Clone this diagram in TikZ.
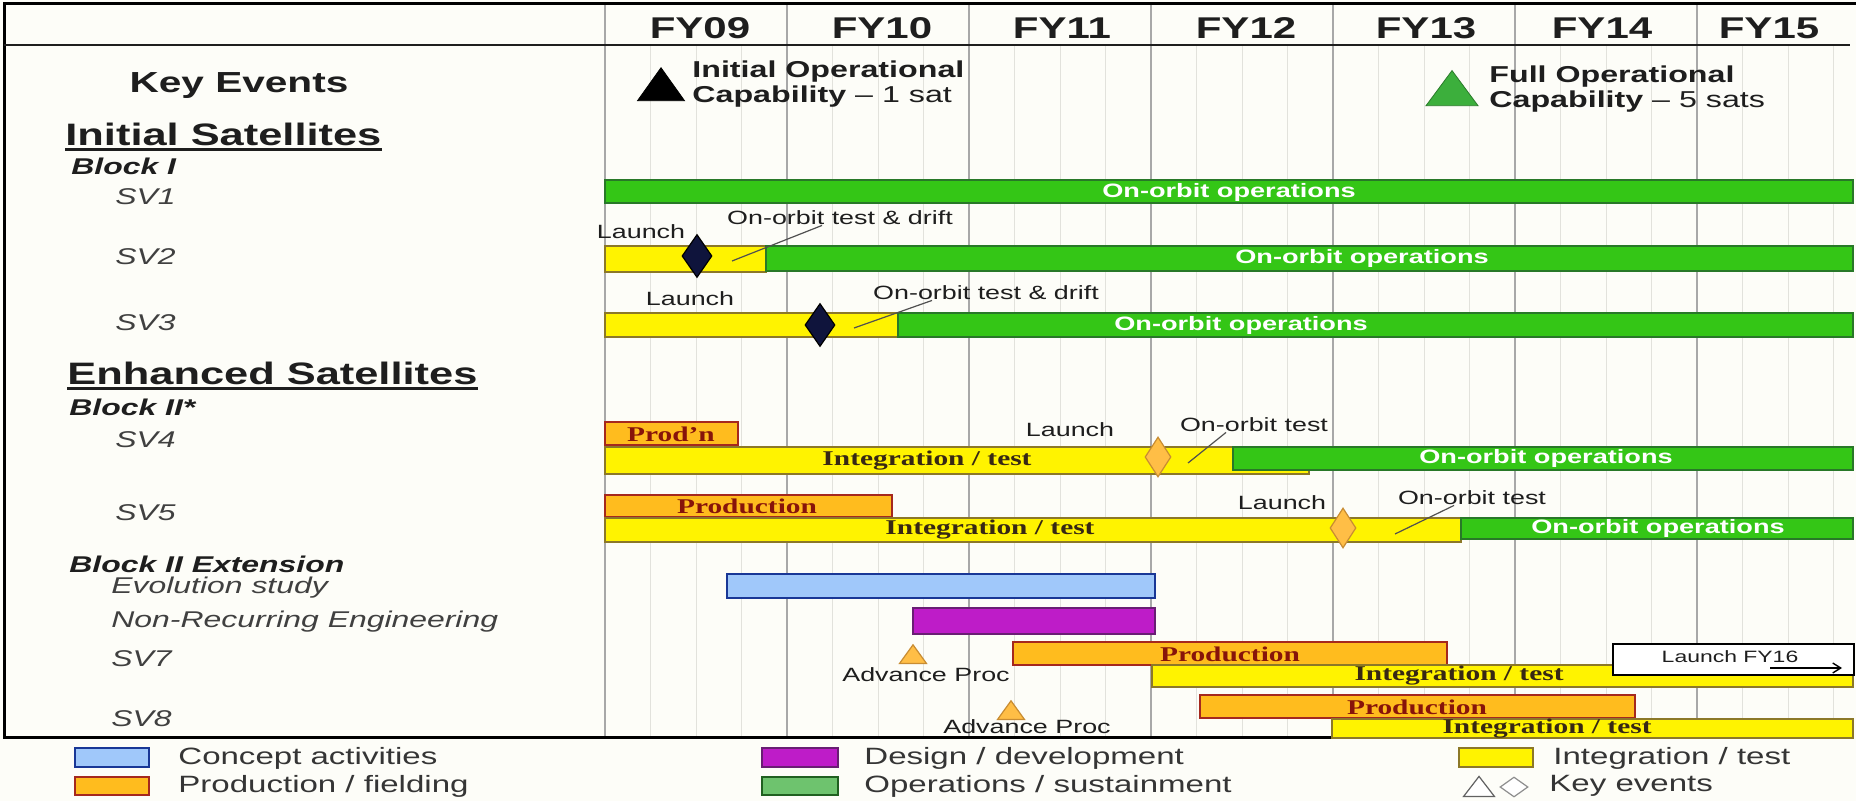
\documentclass[tikz,border=0pt]{standalone}
\usepackage{fontspec}
\setmainfont{Liberation Sans}[FakeStretch=1.4]
\newfontfamily\barfont{Liberation Serif}[FakeStretch=1.4]
\usetikzlibrary{arrows.meta, positioning, shapes.geometric, fit}

\definecolor{paper}{RGB}{253,253,248}
\definecolor{yearline}{RGB}{168,168,168}
\definecolor{qtrline}{RGB}{226,226,220}
\definecolor{opsfill}{RGB}{52,198,22}
\definecolor{opsdraw}{RGB}{40,120,40}
\definecolor{itfill}{RGB}{255,243,0}
\definecolor{itdraw}{RGB}{140,120,40}
\definecolor{prodfill}{RGB}{255,188,30}
\definecolor{proddraw}{RGB}{165,40,30}
\definecolor{conceptfill}{RGB}{160,200,250}
\definecolor{conceptdraw}{RGB}{25,55,150}
\definecolor{designfill}{RGB}{190,28,200}
\definecolor{designdraw}{RGB}{105,30,115}
\definecolor{legopsfill}{RGB}{110,195,110}
\definecolor{evfill}{RGB}{255,190,70}
\definecolor{evdraw}{RGB}{200,140,50}
\definecolor{navy}{RGB}{15,20,60}
\definecolor{focgreen}{RGB}{60,175,60}
\definecolor{prodtxt}{RGB}{135,20,10}
\definecolor{ittxt}{RGB}{55,40,20}
\definecolor{ink}{RGB}{30,30,30}
\definecolor{leadcol}{RGB}{80,80,80}

\begin{document}
\begin{tikzpicture}[
    x=0.5pt, y=-0.5pt, >=Latex,
    bar/.style={inner sep=0pt, line width=0.8pt},
    opsbar/.style={bar, draw=opsdraw, fill=opsfill},
    itbar/.style={bar, draw=itdraw, fill=itfill},
    prodbar/.style={bar, draw=proddraw, fill=prodfill},
    conceptbar/.style={bar, draw=conceptdraw, fill=conceptfill},
    designbar/.style={bar, draw=designdraw, fill=designfill},
    legopsbar/.style={bar, draw=opsdraw!80!black, fill=legopsfill},
    opstext/.style={inner sep=0pt, text=white, font=\bfseries\fontsize{9.7}{10}\selectfont},
    ittext/.style={inner sep=0pt, text=ittxt, font=\barfont\bfseries\fontsize{10.5}{11}\selectfont},
    prodtext/.style={inner sep=0pt, text=prodtxt, font=\barfont\bfseries\fontsize{10.5}{11}\selectfont},
    fy/.style={inner sep=0pt, text=ink, font=\bfseries\fontsize{15}{16}\selectfont},
    head/.style={inner sep=0pt, text=ink, font=\bfseries\fontsize{14.5}{16}\selectfont},
    sect/.style={inner sep=0pt, text=ink, anchor=base west, font=\bfseries\fontsize{15.5}{17}\selectfont},
    blk/.style={inner sep=0pt, text=ink, anchor=base west, font=\bfseries\itshape\fontsize{11.4}{13}\selectfont},
    sv/.style={inner sep=0pt, text=ink!85, anchor=base west, font=\itshape\fontsize{11.4}{13}\selectfont},
    note/.style={inner sep=0pt, text=ink, font=\fontsize{9.6}{10}\selectfont},
    evtext/.style={inner sep=0pt, text=ink, anchor=west, align=left, font=\fontsize{11.5}{12.5}\selectfont},
    legtext/.style={inner sep=0pt, text=ink!90, anchor=west, font=\fontsize{11.8}{13}\selectfont},
    leader/.style={draw=leadcol, line width=0.6pt},
    launchmark/.style={diamond, draw=black, fill=navy, line width=0.6pt, inner sep=0pt, minimum width=15pt, minimum height=21.5pt},
    testmark/.style={diamond, draw=evdraw, fill=evfill, line width=0.6pt, inner sep=0pt, minimum width=13pt, minimum height=20pt},
    procmark/.style={regular polygon, regular polygon sides=3, draw=evdraw, fill=evfill, line width=0.6pt, inner sep=0pt, minimum size=15.6pt, yscale=0.8, anchor=south}
  ]
    \useasboundingbox (0,0) rectangle (1856,801);
    \fill[paper] (0,0) rectangle (1856,801);

    % grid
    \foreach \q in {0,...,27}
      \draw[qtrline, line width=0.5pt] ({605+\q*45.5},45) -- ({605+\q*45.5},737);
    \foreach \k in {0,...,6}
      \draw[yearline, line width=0.7pt] ({605+\k*182},4) -- ({605+\k*182},737);
    \draw[black, line width=1.5pt] (3,4) -- (1856,4);
    \draw[black, line width=1.5pt] (4,4) -- (4,737) -- (1332,737);
    \draw[ink, line width=0.8pt] (4,45) -- (1850,45);

    % years
    \foreach \lab/\xc in {FY09/700, FY10/882, FY11/1062, FY12/1246, FY13/1426, FY14/1602, FY15/1769}
      \node[fy] (\lab) at (\xc,28) {\lab};

    % row labels
    \node[head, anchor=base] (keyev) at (239,93) {Key Events};
    \node[sect] (inisat) at (65,146) {Initial Satellites};
    \draw[ink, line width=1.2pt] ([yshift=-1.8pt]inisat.base west) -- ([yshift=-1.8pt]inisat.base east);
    \node[blk] (blk1) at (71,175) {Block I};
    \node[sv] (sv1) at (115,205) {SV1};
    \node[sv] (sv2) at (115,265) {SV2};
    \node[sv] (sv3) at (115,331) {SV3};
    \node[sect] (enhsat) at (67,385) {Enhanced Satellites};
    \draw[ink, line width=1.2pt] ([yshift=-1.8pt]enhsat.base west) -- ([yshift=-1.8pt]enhsat.base east);
    \node[blk] (blk2) at (69,416) {Block II*};
    \node[sv] (sv4) at (115,448) {SV4};
    \node[sv] (sv5) at (115,520) {SV5};
    \node[blk] (blk2ext) at (69,572) {Block II Extension};
    \node[sv] (evol) at (111,593) {Evolution study};
    \node[sv] (nre) at (111,627) {Non-Recurring Engineering};
    \node[sv] (sv7) at (111,666) {SV7};
    \node[sv] (sv8) at (111,726) {SV8};

    % capability milestones
    \node[regular polygon, regular polygon sides=3, fill=black, draw=black, inner sep=0pt,
          minimum size=27.1pt, yscale=0.81, anchor=south] (ioc) at (661,101) {};
    \node[evtext] (ioclab) at (692,84) {\textbf{Initial Operational}\\\textbf{Capability} – 1 sat};
    \node[regular polygon, regular polygon sides=3, fill=focgreen, draw=focgreen!70!black, inner sep=0pt,
          minimum size=30pt, yscale=0.78, anchor=south] (foc) at (1452,106) {};
    \node[evtext] (foclab) at (1489,89) {\textbf{Full Operational}\\\textbf{Capability} – 5 sats};

    % SV1
    \node[opsbar, fit={(605,180) (1853,203)}] (sv1ops) {};
    \node[opstext] (sv1opst) at (1229,192) {On-orbit operations};

    % SV2
    \node[itbar, fit={(605,246) (766,272)}] (sv2it) {};
    \node[opsbar, fit={(766,246) (1853,271)}] (sv2ops) {};
    \node[opstext] (sv2opst) at (1362,258.5) {On-orbit operations};
    \node[launchmark] (sv2launch) at (697,256) {};
    \node[note] (sv2lab) at (641,232) {Launch};
    \node[note] (sv2test) at (840,218) {On-orbit test \& drift};
    \coordinate (sv2tip) at (732,261);
    \draw[leader] (sv2tip) -- ([xshift=-9pt]sv2test.south);

    % SV3
    \node[itbar, fit={(605,313) (898,337)}] (sv3it) {};
    \node[opsbar, fit={(898,313) (1853,337)}] (sv3ops) {};
    \node[opstext] (sv3opst) at (1241,325) {On-orbit operations};
    \node[launchmark] (sv3launch) at (820,325) {};
    \node[note] (sv3lab) at (690,299) {Launch};
    \node[note] (sv3test) at (986,293) {On-orbit test \& drift};
    \coordinate (sv3tip) at (854,328);
    \draw[leader] (sv3tip) -- ([xshift=-27pt]sv3test.south);

    % SV4
    \node[prodbar, fit={(605,422) (738,445)}] (sv4prod) {};
    \node[prodtext] (sv4prodt) at (671,434) {Prod’n};
    \node[itbar, fit={(605,447) (1309,474)}] (sv4it) {};
    \node[ittext] (sv4itt) at (927,461) {Integration / test};
    \node[opsbar, fit={(1233,447) (1853,470)}] (sv4ops) {};
    \node[opstext] (sv4opst) at (1546,458.5) {On-orbit operations};
    \node[testmark] (sv4launch) at (1158,457) {};
    \node[note] (sv4lab) at (1070,430) {Launch};
    \node[note] (sv4test) at (1254,425) {On-orbit test};
    \coordinate (sv4tip) at (1188,463);
    \draw[leader] (sv4tip) -- ([xshift=-14pt]sv4test.south);

    % SV5
    \node[prodbar, fit={(605,495) (892,517)}] (sv5prod) {};
    \node[prodtext] (sv5prodt) at (747,506) {Production};
    \node[itbar, fit={(605,518) (1461,542)}] (sv5it) {};
    \node[ittext] (sv5itt) at (990,530) {Integration / test};
    \node[opsbar, fit={(1461,518) (1853,539)}] (sv5ops) {};
    \node[opstext] (sv5opst) at (1658,528.5) {On-orbit operations};
    \node[testmark] (sv5launch) at (1343,528) {};
    \node[note] (sv5lab) at (1282,503) {Launch};
    \node[note] (sv5test) at (1472,498) {On-orbit test};
    \coordinate (sv5tip) at (1395,534);
    \draw[leader] (sv5tip) -- ([xshift=-9pt]sv5test.south);

    % Block II extension
    \node[conceptbar, fit={(727,574) (1155,598)}] (evolbar) {};
    \node[designbar, fit={(913,608) (1155,634)}] (nrebar) {};

    % SV7
    \node[prodbar, fit={(1013,642) (1447,665)}] (sv7prod) {};
    \node[prodtext] (sv7prodt) at (1230,654) {Production};
    \node[itbar, fit={(1152,665) (1853,687)}] (sv7it) {};
    \node[ittext] (sv7itt) at (1459,676) {Integration / test};
    \node[procmark] (sv7adv) at (913,664) {};
    \node[note] (sv7advlab) at (926,675) {Advance Proc};
    \node[draw=black, fill=white, line width=0.6pt, inner sep=0pt, fit={(1613,644) (1854,675)}] (fy16box) {};
    \node[note, font=\fontsize{8.2}{9}\selectfont] (fy16lab) at (1730,657) {Launch FY16};
    \coordinate (fy16a) at (1770,668);
    \coordinate (fy16b) at (1842,668);
    \draw[-{Straight Barb[length=4pt, width=5pt]}, line width=0.7pt] (fy16a) -- (fy16b);

    % SV8
    \node[prodbar, fit={(1200,695) (1635,718)}] (sv8prod) {};
    \node[prodtext] (sv8prodt) at (1417,707) {Production};
    \node[itbar, fit={(1332,719) (1853,738)}] (sv8it) {};
    \node[ittext] (sv8itt) at (1547,728.5) {Integration / test};
    \node[procmark] (sv8adv) at (1011,720) {};
    \node[note] (sv8advlab) at (1027,727) {Advance Proc};

    % legend
    \node[conceptbar, fit={(75,748) (149,767)}] (legconcept) {};
    \node[legtext] (legconceptt) at (178,758) {Concept activities};
    \node[prodbar, fit={(75,777) (149,795)}] (legprod) {};
    \node[legtext] (legprodt) at (178,786) {Production / fielding};
    \node[designbar, fit={(762,748) (838,767)}] (legdesign) {};
    \node[legtext] (legdesignt) at (864,758) {Design / development};
    \node[legopsbar, fit={(762,777) (838,795)}] (legops) {};
    \node[legtext] (legopst) at (864,786) {Operations / sustainment};
    \node[itbar, fit={(1459,748) (1533,767)}] (legit) {};
    \node[legtext] (legitt) at (1553,758) {Integration / test};
    \node[regular polygon, regular polygon sides=3, draw=ink!70, fill=white, line width=0.6pt, inner sep=0pt,
          minimum size=17.9pt, yscale=0.75, anchor=south] (legtri) at (1479,797) {};
    \node[diamond, draw=ink!50, fill=white, line width=0.6pt, inner sep=0pt,
          minimum width=14pt, minimum height=10pt] (legdia) at (1514,787) {};
    \node[legtext] (legevt) at (1549,786) {Key events};
  \end{tikzpicture}
\end{document}
